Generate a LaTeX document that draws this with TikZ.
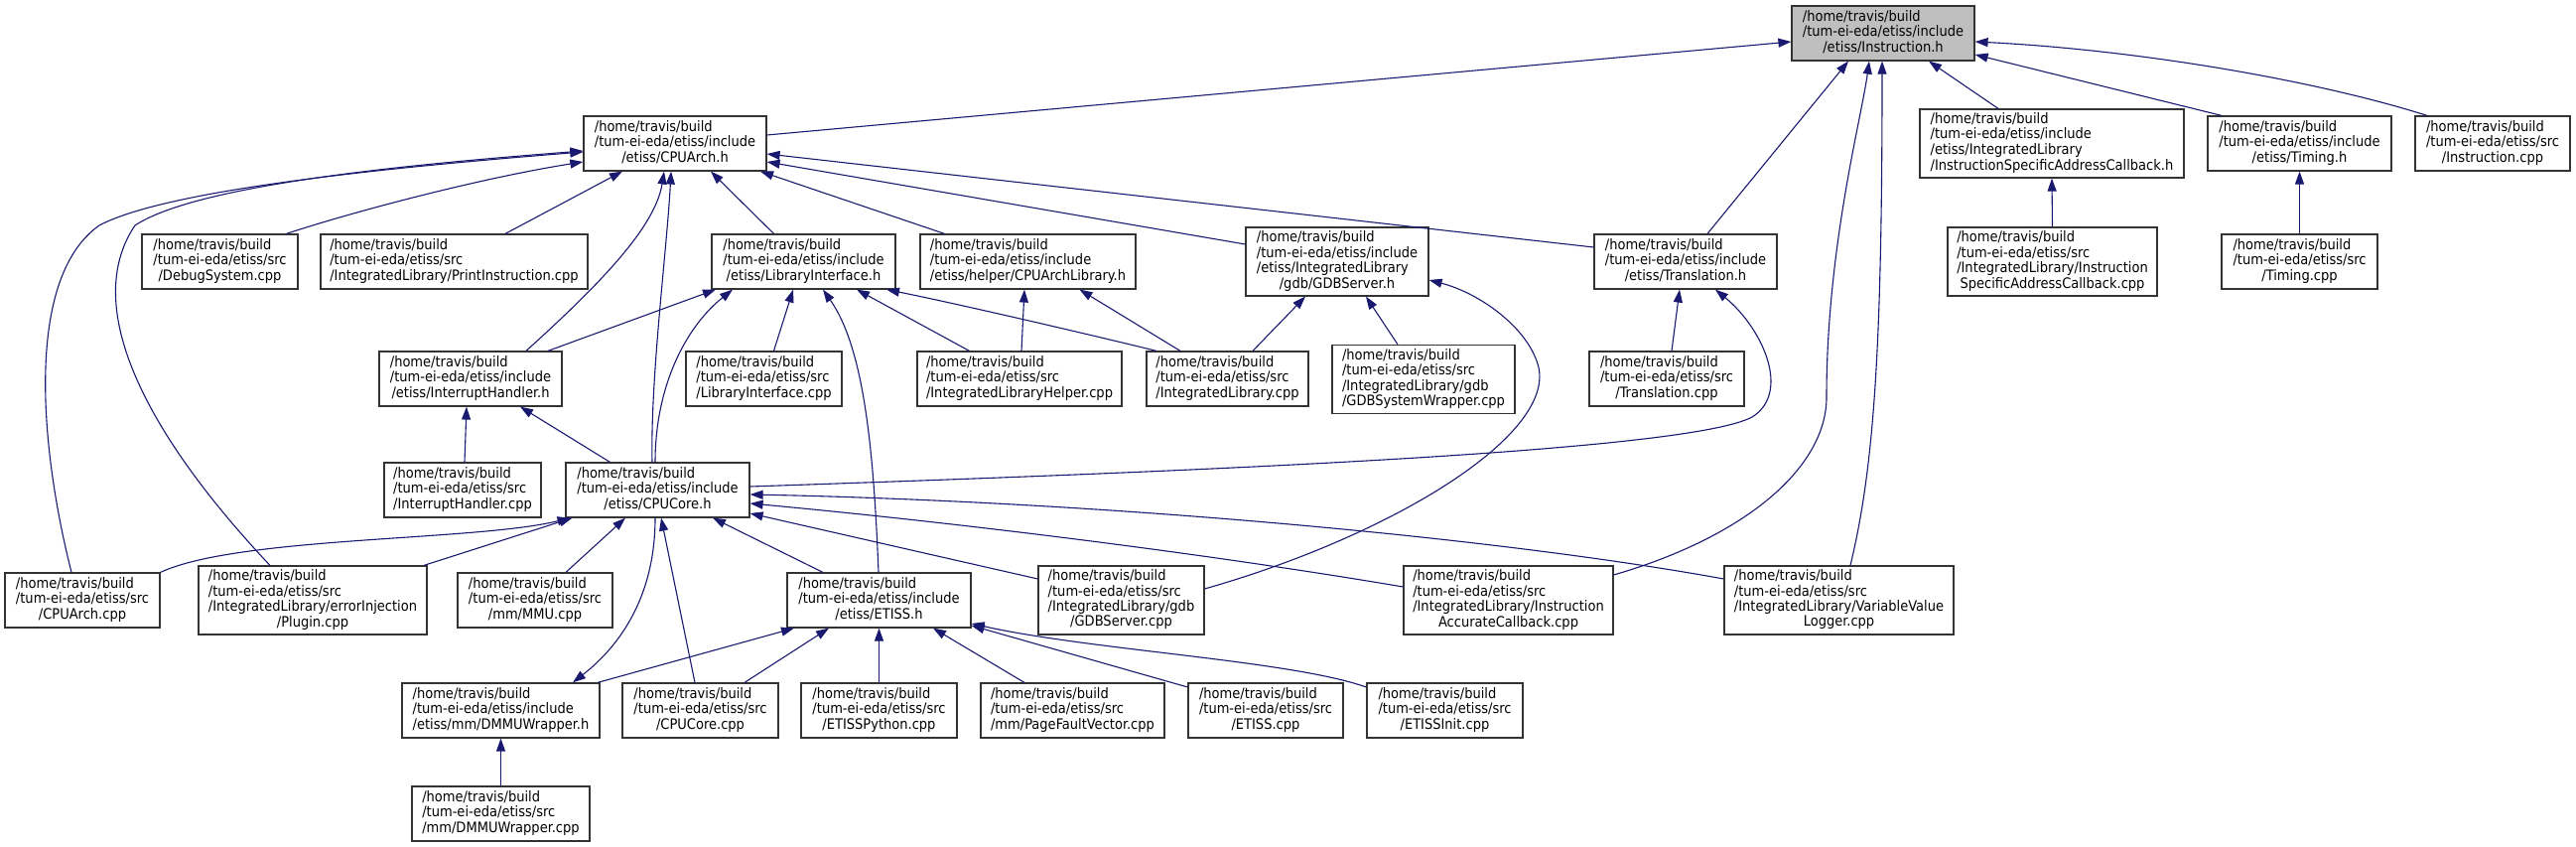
\documentclass[tikz,border=0pt]{standalone}
\usepackage{fontspec}
\setmainfont{DejaVu Sans Condensed}
\usepackage{tikz}
\usetikzlibrary{arrows.meta}
\definecolor{DGEdge}{HTML}{191970}
\definecolor{DGRoot}{HTML}{BFBFBF}
\definecolor{DGLine}{HTML}{333333}
\newcommand{\dlabel}[2]{\begin{tabular}{@{}l@{}}#1\\\multicolumn{1}{@{}c@{}}{#2}\end{tabular}}

\begin{document}
\begin{tikzpicture}[x=1pt,y=-1pt,
  file/.style={draw=DGLine,line width=1.2pt,fill=white,inner sep=0pt,minimum height=55pt,font=\fontsize{14.5}{15}\selectfont},
  tall/.style={minimum height=69pt},
  dep/.style={DGEdge,line width=1.1pt,-{Triangle[length=13pt,width=9pt]}}]
\useasboundingbox (0,0) rectangle (2595,853);

\node[file,fill=DGRoot,minimum width=184pt] (instr) at (1897,33.5) {\dlabel{/home/travis/build\\/tum-ei-eda/etiss/include}{/etiss/Instruction.h}};

\node[file,minimum width=184pt] (cpuarch) at (680,144.5) {\dlabel{/home/travis/build\\/tum-ei-eda/etiss/include}{/etiss/CPUArch.h}};
\node[file,tall,minimum width=266pt] (isach) at (2067,144.5) {\dlabel{/home/travis/build\\/tum-ei-eda/etiss/include\\/etiss/IntegratedLibrary}{/InstructionSpecificAddressCallback.h}};
\node[file,minimum width=185pt] (timingh) at (2316.5,144.5) {\dlabel{/home/travis/build\\/tum-ei-eda/etiss/include}{/etiss/Timing.h}};
\node[file,minimum width=156pt] (instrcpp) at (2511,144.5) {\dlabel{/home/travis/build\\/tum-ei-eda/etiss/src}{/Instruction.cpp}};

\node[file,minimum width=157pt] (debugsys) at (221.5,263.5) {\dlabel{/home/travis/build\\/tum-ei-eda/etiss/src}{/DebugSystem.cpp}};
\node[file,minimum width=269pt] (printinstr) at (457.5,263.5) {\dlabel{/home/travis/build\\/tum-ei-eda/etiss/src}{/IntegratedLibrary/PrintInstruction.cpp}};
\node[file,minimum width=185pt] (libif) at (809.5,263.5) {\dlabel{/home/travis/build\\/tum-ei-eda/etiss/include}{/etiss/LibraryInterface.h}};
\node[file,minimum width=217pt] (cpuarchlib) at (1035.5,263.5) {\dlabel{/home/travis/build\\/tum-ei-eda/etiss/include}{/etiss/helper/CPUArchLibrary.h}};
\node[file,tall,minimum width=184pt] (gdbserverh) at (1347,263.5) {\dlabel{/home/travis/build\\/tum-ei-eda/etiss/include\\/etiss/IntegratedLibrary}{/gdb/GDBServer.h}};
\node[file,minimum width=184pt] (translh) at (1698,263.5) {\dlabel{/home/travis/build\\/tum-ei-eda/etiss/include}{/etiss/Translation.h}};
\node[file,tall,minimum width=211pt] (isaccpp) at (2067.5,263.5) {\dlabel{/home/travis/build\\/tum-ei-eda/etiss/src\\/IntegratedLibrary/Instruction}{SpecificAddressCallback.cpp}};
\node[file,minimum width=157pt] (timingcpp) at (2316.5,263.5) {\dlabel{/home/travis/build\\/tum-ei-eda/etiss/src}{/Timing.cpp}};

\node[file,minimum width=184pt] (irqh) at (474,381.5) {\dlabel{/home/travis/build\\/tum-ei-eda/etiss/include}{/etiss/InterruptHandler.h}};
\node[file,minimum width=157pt] (libifcpp) at (769.5,381.5) {\dlabel{/home/travis/build\\/tum-ei-eda/etiss/src}{/LibraryInterface.cpp}};
\node[file,minimum width=206pt] (libhelpcpp) at (1027,381.5) {\dlabel{/home/travis/build\\/tum-ei-eda/etiss/src}{/IntegratedLibraryHelper.cpp}};
\node[file,minimum width=163pt] (libcpp) at (1236.5,381.5) {\dlabel{/home/travis/build\\/tum-ei-eda/etiss/src}{/IntegratedLibrary.cpp}};
\node[file,tall,minimum width=184pt] (gdbwrapcpp) at (1434,382) {\dlabel{/home/travis/build\\/tum-ei-eda/etiss/src\\/IntegratedLibrary/gdb}{/GDBSystemWrapper.cpp}};
\node[file,minimum width=156pt] (translcpp) at (1679,381.5) {\dlabel{/home/travis/build\\/tum-ei-eda/etiss/src}{/Translation.cpp}};

\node[file,minimum width=158pt] (irqcpp) at (466,493.5) {\dlabel{/home/travis/build\\/tum-ei-eda/etiss/src}{/InterruptHandler.cpp}};
\node[file,minimum width=185pt] (cpucoreh) at (662.5,493.5) {\dlabel{/home/travis/build\\/tum-ei-eda/etiss/include}{/etiss/CPUCore.h}};

\node[file,minimum width=156pt] (cpuarchcpp) at (83,604.5) {\dlabel{/home/travis/build\\/tum-ei-eda/etiss/src}{/CPUArch.cpp}};
\node[file,tall,minimum width=230pt] (plugincpp) at (315,604.5) {\dlabel{/home/travis/build\\/tum-ei-eda/etiss/src\\/IntegratedLibrary/errorInjection}{/Plugin.cpp}};
\node[file,minimum width=156pt] (mmucpp) at (539,604.5) {\dlabel{/home/travis/build\\/tum-ei-eda/etiss/src}{/mm/MMU.cpp}};
\node[file,minimum width=185pt] (etissh) at (885.5,604.5) {\dlabel{/home/travis/build\\/tum-ei-eda/etiss/include}{/etiss/ETISS.h}};
\node[file,tall,minimum width=167pt] (gdbservercpp) at (1129.5,604.5) {\dlabel{/home/travis/build\\/tum-ei-eda/etiss/src\\/IntegratedLibrary/gdb}{/GDBServer.cpp}};
\node[file,tall,minimum width=211pt] (iaccpp) at (1519.5,604.5) {\dlabel{/home/travis/build\\/tum-ei-eda/etiss/src\\/IntegratedLibrary/Instruction}{AccurateCallback.cpp}};
\node[file,tall,minimum width=231pt] (vvlcpp) at (1852.5,604.5) {\dlabel{/home/travis/build\\/tum-ei-eda/etiss/src\\/IntegratedLibrary/VariableValue}{Logger.cpp}};

\node[file,minimum width=199pt] (dmmuh) at (504.5,715.5) {\dlabel{/home/travis/build\\/tum-ei-eda/etiss/include}{/etiss/mm/DMMUWrapper.h}};
\node[file,minimum width=157pt] (cpucorecpp) at (705.5,715.5) {\dlabel{/home/travis/build\\/tum-ei-eda/etiss/src}{/CPUCore.cpp}};
\node[file,minimum width=157pt] (pythoncpp) at (885.5,715.5) {\dlabel{/home/travis/build\\/tum-ei-eda/etiss/src}{/ETISSPython.cpp}};
\node[file,minimum width=185pt] (pfvcpp) at (1080.5,715.5) {\dlabel{/home/travis/build\\/tum-ei-eda/etiss/src}{/mm/PageFaultVector.cpp}};
\node[file,minimum width=156pt] (etisscpp) at (1275,715.5) {\dlabel{/home/travis/build\\/tum-ei-eda/etiss/src}{/ETISS.cpp}};
\node[file,minimum width=157pt] (etissinitcpp) at (1455.5,715.5) {\dlabel{/home/travis/build\\/tum-ei-eda/etiss/src}{/ETISSInit.cpp}};

\node[file,minimum width=179pt] (dmmucpp) at (504.5,819.5) {\dlabel{/home/travis/build\\/tum-ei-eda/etiss/src}{/mm/DMMUWrapper.cpp}};

\draw[dep] ([yshift=8.5pt]cpuarch.east) -- ([yshift=-8.5pt]instr.west);
\draw[dep] ([xshift=22pt]translh.north) -- ([xshift=-35pt]instr.south);
\draw[dep] ([yshift=25.5pt]iaccpp.east) .. controls (1760,540) and (1840,470) .. (1840,400) .. controls (1840,250) and (1875,120) .. ([xshift=-14pt]instr.south);
\draw[dep] ([xshift=11.5pt]vvlcpp.north) .. controls (1888,470) and (1896,350) .. ([xshift=-1pt]instr.south);
\draw[dep] ([xshift=-54pt]isach.north) -- ([xshift=46pt]instr.south);
\draw[dep] ([xshift=-78.5pt]timingh.north) -- ([yshift=-21.5pt]instr.east);
\draw[dep] ([xshift=-66pt]instrcpp.north) .. controls (2330,80) and (2150,50) .. ([yshift=-8.5pt]instr.east);

\draw[dep] ([xshift=67pt]debugsys.north) .. controls (350,215) and (480,180) .. ([yshift=-18.5pt]cpuarch.west);
\draw[dep] ([xshift=51.5pt]printinstr.north) -- ([xshift=-53pt]cpuarch.south);
\draw[dep] ([xshift=-30pt]libif.north) -- ([xshift=36pt]cpuarch.south);
\draw[dep] ([xshift=-84pt]cpuarchlib.north) -- ([xshift=86pt]cpuarch.south);
\draw[dep] ([yshift=17.5pt]gdbserverh.west) -- ([yshift=-18.5pt]cpuarch.east);
\draw[dep] ([yshift=14.5pt]translh.west) -- ([yshift=-10.5pt]cpuarch.east);
\draw[dep] ([xshift=56pt]irqh.north) .. controls (600,290) and (660,230) .. ([xshift=-11pt]cpuarch.south);
\draw[dep] ([xshift=-5.5pt]cpucoreh.north) .. controls (655,380) and (672,250) .. ([xshift=-4pt]cpuarch.south);
\draw[dep] ([xshift=-11pt]cpuarchcpp.north) .. controls (40,450) and (25,280) .. (100,227) .. controls (170,190) and (400,168) .. ([yshift=-8.5pt]cpuarch.west);
\draw[dep] ([xshift=-43pt]plugincpp.north) .. controls (150,440) and (80,310) .. (136,227) .. controls (200,185) and (420,165) .. ([yshift=-7.5pt]cpuarch.west);

\draw[dep] ([xshift=78pt]irqh.north) -- ([xshift=-88.5pt]libif.south);
\draw[dep] ([xshift=-2.5pt]cpucoreh.north) .. controls (660,390) and (690,330) .. ([xshift=-71.5pt]libif.south);
\draw[dep] ([xshift=10pt]libifcpp.north) -- ([xshift=-10.5pt]libif.south);
\draw[dep] ([xshift=-0.5pt]etissh.north) .. controls (880,450) and (870,350) .. ([xshift=19.5pt]libif.south);
\draw[dep] ([xshift=-50.5pt]libhelpcpp.north) -- ([xshift=53.5pt]libif.south);
\draw[dep] ([xshift=-71.5pt]libcpp.north) .. controls (1090,335) and (960,305) .. ([xshift=83.5pt]libif.south);

\draw[dep] ([xshift=2pt]libhelpcpp.north) -- ([xshift=-3.5pt]cpuarchlib.south);
\draw[dep] ([xshift=-47.5pt]libcpp.north) -- ([xshift=52pt]cpuarchlib.south);

\draw[dep] ([xshift=25.5pt]libcpp.north) -- ([xshift=-32pt]gdbserverh.south);
\draw[dep] ([xshift=-26pt]gdbwrapcpp.north) -- ([xshift=29pt]gdbserverh.south);
\draw[dep] ([yshift=11.5pt]gdbservercpp.east) .. controls (1400,540) and (1565,440) .. (1550,370) .. controls (1540,330) and (1490,295) .. ([yshift=-18.5pt]gdbserverh.east);

\draw[dep] ([xshift=5pt]translcpp.north) -- ([xshift=-6pt]translh.south);
\draw[dep] ([yshift=3.5pt]cpucoreh.east) .. controls (1200,475) and (1700,455) .. (1765,420) .. controls (1805,395) and (1775,330) .. ([xshift=30pt]translh.south);

\draw[dep] ([xshift=2pt]irqcpp.north) -- ([xshift=-4pt]irqh.south);
\draw[dep] ([xshift=-48pt]cpucoreh.north) -- ([xshift=50pt]irqh.south);

\draw[dep] (cpuarchcpp.north east) .. controls (240,540) and (480,545) .. ([xshift=-88pt]cpucoreh.south);
\draw[dep] ([xshift=112pt]plugincpp.north) -- ([xshift=-86pt]cpucoreh.south);
\draw[dep] ([xshift=31pt]mmucpp.north) -- ([xshift=-32.5pt]cpucoreh.south);
\draw[dep] ([xshift=-5.5pt]cpucorecpp.north) -- ([xshift=3.5pt]cpucoreh.south);
\draw[dep] ([xshift=-56.5pt]etissh.north) -- ([xshift=55.5pt]cpucoreh.south);
\draw[dep] ([yshift=21.5pt]gdbservercpp.west) -- ([yshift=-23.5pt]cpucoreh.east);
\draw[dep] ([yshift=13.5pt]iaccpp.west) .. controls (1200,555) and (950,525) .. ([yshift=-13.5pt]cpucoreh.east);
\draw[dep] ([yshift=21.5pt]vvlcpp.west) .. controls (1500,540) and (1100,505) .. ([yshift=-4.5pt]cpucoreh.east);
\draw[dep] ([xshift=-2.5pt]cpucoreh.south) .. controls (660,600) and (625,650) .. ([xshift=72.5pt]dmmuh.north);

\draw[dep] ([xshift=97.5pt]dmmuh.north) -- ([xshift=-85.5pt]etissh.south);
\draw[dep] ([xshift=44.5pt]cpucorecpp.north) -- ([xshift=-50.5pt]etissh.south);
\draw[dep] (pythoncpp.north) -- (etissh.south);
\draw[dep] ([xshift=-48.5pt]pfvcpp.north) -- ([xshift=54.5pt]etissh.south);
\draw[dep] ([yshift=23.5pt]etisscpp.west) -- ([yshift=-25.5pt]etissh.east);
\draw[dep] ([yshift=23.5pt]etissinitcpp.west) .. controls (1300,665) and (1100,655) .. ([yshift=-23.5pt]etissh.east);

\draw[dep] (dmmucpp.north) -- (dmmuh.south);
\draw[dep] (isaccpp.north) -- (isach.south);
\draw[dep] (timingcpp.north) -- (timingh.south);
\end{tikzpicture}
\end{document}
